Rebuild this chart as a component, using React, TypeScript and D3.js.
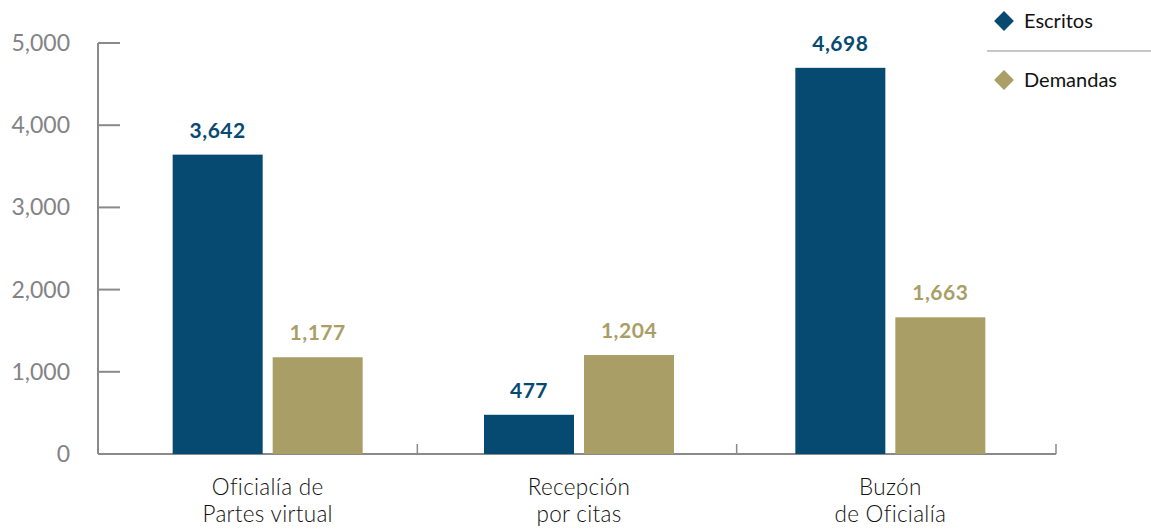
import React, { useEffect, useRef } from "react";
import * as d3 from "d3";

const categories = [["Oficialía de", "Partes virtual"], ["Recepción", "por citas"], ["Buzón", "de Oficialía"]];
const seriesNames = ["Escritos", "Demandas"];
const escritos = [3642, 477, 4698];
const demandas = [1177, 1204, 1663];
const yTicks = [0, 1000, 2000, 3000, 4000, 5000];
const colors = ["#074a71", "#aa9e67"];

export default function App() {
  const ref = useRef<SVGSVGElement>(null);

  useEffect(() => {
    const svg = d3.select(ref.current);
    svg.selectAll("*").remove();
    const W = 1151, H = 529;
    const left = 98, right = 1056, top = 43, bottom = 454;
    const axisColor = "#8a8a8d";

    // axis sections and the (slightly shifted) bar groups
    const x = d3.scaleBand<number>().domain([0, 1, 2]).range([left, right]);
    const xb = d3.scaleBand<number>().domain([0, 1, 2]).range([112, 1046]);
    const y = d3.scaleLinear().domain([0, 5000]).range([bottom, top]);
    const inner = d3.scaleBand<number>().domain([0, 1]).range([0, 190]).paddingInner(0.1);
    const font = "Lato, 'Open Sans', sans-serif";
    const gx = (i: number) => (xb(i) as number) + xb.bandwidth() / 2 - 95;

    // y axis
    const g = svg.append("g");
    g.append("line").attr("x1", left).attr("x2", left).attr("y1", top).attr("y2", bottom)
      .attr("stroke", axisColor).attr("stroke-width", 2);
    g.selectAll(".yt").data(yTicks).join("line")
      .attr("x1", left).attr("x2", 120).attr("y1", (d) => y(d)).attr("y2", (d) => y(d))
      .attr("stroke", axisColor).attr("stroke-width", 2);
    g.selectAll(".yl").data(yTicks).join("text")
      .attr("x", 70).attr("y", (d) => y(d)).attr("dy", "0.35em")
      .attr("text-anchor", "end").attr("fill", "#838386")
      .style("font-family", font).style("font-size", "23px")
      .text((d) => d3.format(",")(d));

    // x axis
    g.append("line").attr("x1", left).attr("x2", right).attr("y1", bottom).attr("y2", bottom)
      .attr("stroke", axisColor).attr("stroke-width", 2);
    const bounds = [0, 1, 2].map((i) => (x(i) as number) + x.bandwidth()).concat([left]);
    g.selectAll(".xt").data(bounds).join("line")
      .attr("x1", (d) => d).attr("x2", (d) => d).attr("y1", bottom).attr("y2", bottom - 10)
      .attr("stroke", axisColor).attr("stroke-width", 1.5);

    // bars
    const series = [escritos, demandas];
    series.forEach((vals, s) => {
      const bars = svg.append("g");
      bars.selectAll("rect").data(vals).join("rect")
        .attr("x", (d, i) => gx(i) + (inner(s) as number))
        .attr("y", (d) => y(d))
        .attr("width", inner.bandwidth())
        .attr("height", (d) => bottom - y(d))
        .attr("fill", colors[s]);
      bars.selectAll("text").data(vals).join("text")
        .attr("x", (d, i) => gx(i) + (inner(s) as number) + inner.bandwidth() / 2)
        .attr("y", (d) => y(d) - 17)
        .attr("text-anchor", "middle").attr("fill", colors[s])
        .style("font-family", font).style("font-size", "21px").style("font-weight", "bold")
        .style("letter-spacing", "0.5px")
        .text((d) => d3.format(",")(d));
    });

    // category labels
    categories.forEach((lines, i) => {
      const cx = (xb(i) as number) + xb.bandwidth() / 2;
      lines.forEach((l, k) => {
        svg.append("text")
          .attr("x", cx).attr("y", 495 + k * 27)
          .attr("text-anchor", "middle").attr("fill", "#111")
          .style("font-family", font).style("font-size", "22.5px").style("font-weight", 300)
          .style("letter-spacing", "0.3px")
          .text(l);
      });
    });

    // legend
    const lg = svg.append("g");
    seriesNames.forEach((n, i) => {
      const cy = 21 + i * 59;
      lg.append("path").attr("d", d3.symbol(d3.symbolDiamond2, 250)())
        .attr("transform", `translate(1004,${cy})`).attr("fill", colors[i]);
      lg.append("text").attr("x", 1024).attr("y", cy).attr("dy", "0.35em")
        .attr("fill", "#111").style("font-family", font).style("font-size", "20px")
        .text(n);
    });
    lg.append("line").attr("x1", 987).attr("x2", W).attr("y1", 51).attr("y2", 51)
      .attr("stroke", "#b5b5b5").attr("stroke-width", 1.5);
    svg.attr("width", W).attr("height", H);
  }, []);

  return (
    <svg ref={ref} width={1151} height={529} style={{ position: "absolute", left: 0, top: 0 }} />
  );
}
